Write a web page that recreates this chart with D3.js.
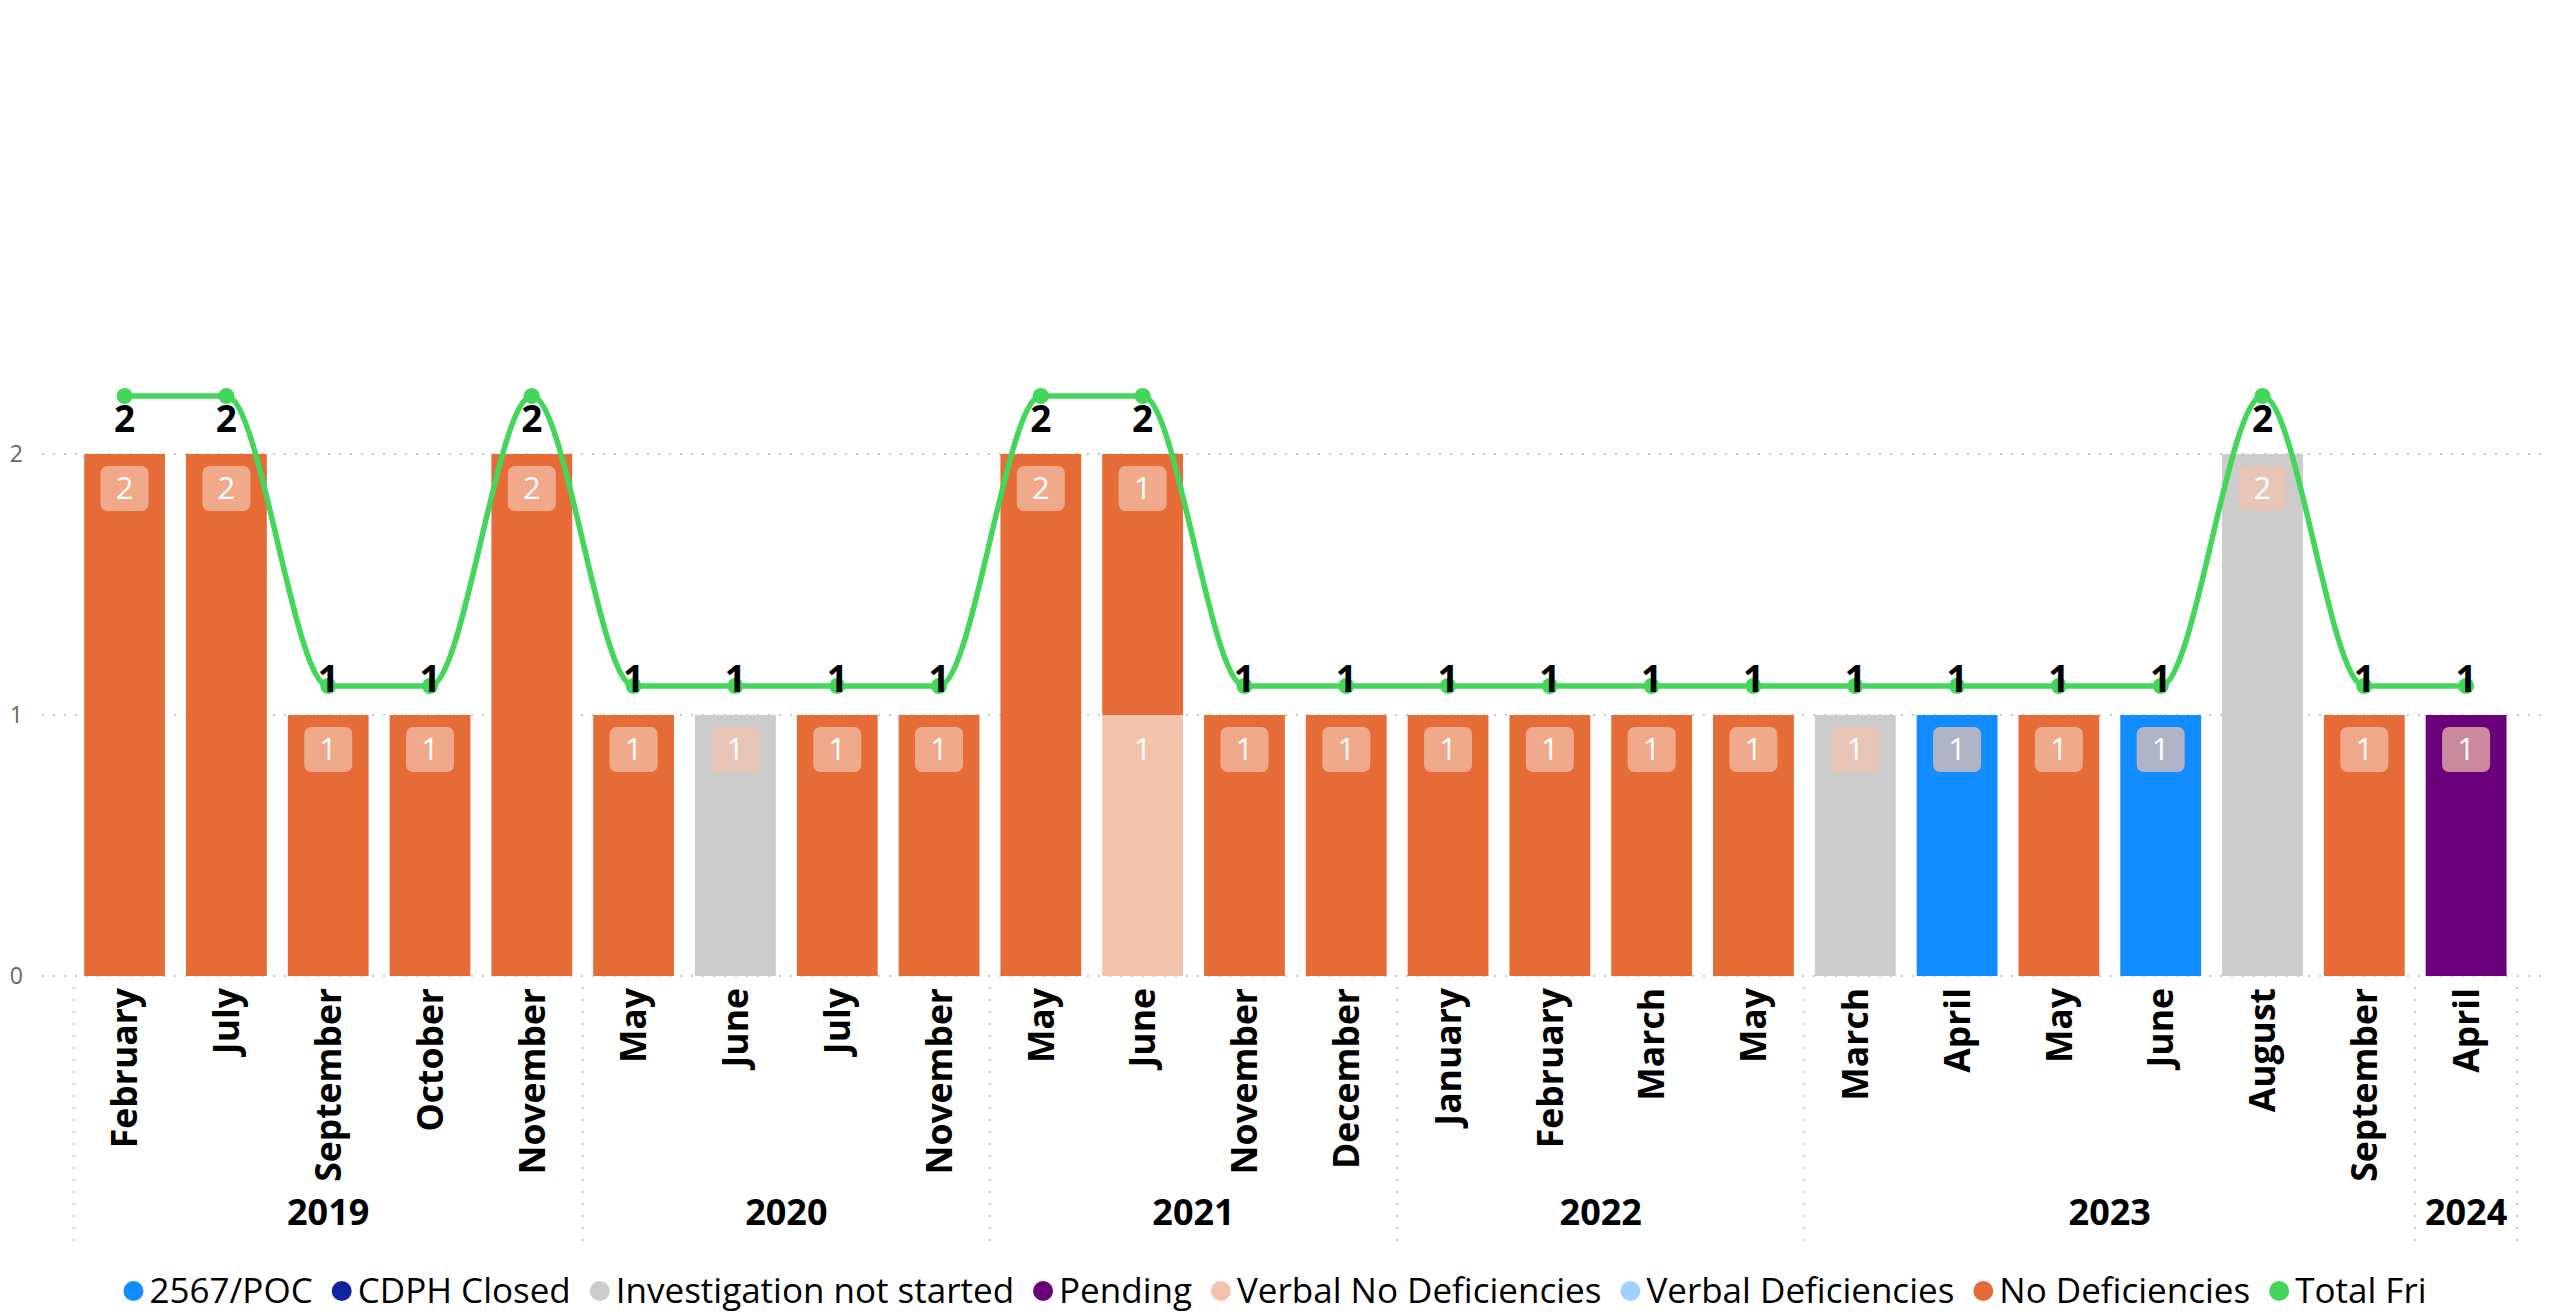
<!DOCTYPE html>
<html>
<head>
<meta charset="utf-8">
<script src="https://cdn.jsdelivr.net/npm/d3@7"></script>
<style>
  html, body { margin: 0; padding: 0; background: #fff; }
  svg { display: block; }
  text { font-family: "Segoe UI", "Open Sans", "Noto Sans", sans-serif; }
</style>
</head>
<body>
<svg id="chart" width="2554" height="1314"></svg>
<script>
// ---------- DATA ----------
const months = ["February","July","September","October","November",
                "May","June","July","November",
                "May","June","November","December",
                "January","February","March","May",
                "March","April","May","June","August","September",
                "April"];
const years = ["2019","2019","2019","2019","2019",
               "2020","2020","2020","2020",
               "2021","2021","2021","2021",
               "2022","2022","2022","2022",
               "2023","2023","2023","2023","2023","2023",
               "2024"];

const statusNames = ["2567/POC","CDPH Closed","Investigation not started","Pending",
                     "Verbal No Deficiencies","Verbal Deficiencies","No Deficiencies"];
const statusColors = ["#118DFF","#12239E","#CCCCCC","#6B007B","#F4C3AE","#A0D1FF","#E66C37"];

const poc              = [0,0,0,0,0, 0,0,0,0, 0,0,0,0, 0,0,0,0, 0,1,0,1,0,0, 0];
const cdphClosed       = [0,0,0,0,0, 0,0,0,0, 0,0,0,0, 0,0,0,0, 0,0,0,0,0,0, 0];
const notStarted       = [0,0,0,0,0, 0,1,0,0, 0,0,0,0, 0,0,0,0, 1,0,0,0,2,0, 0];
const pending          = [0,0,0,0,0, 0,0,0,0, 0,0,0,0, 0,0,0,0, 0,0,0,0,0,0, 1];
const verbalNoDef      = [0,0,0,0,0, 0,0,0,0, 0,1,0,0, 0,0,0,0, 0,0,0,0,0,0, 0];
const verbalDef        = [0,0,0,0,0, 0,0,0,0, 0,0,0,0, 0,0,0,0, 0,0,0,0,0,0, 0];
const noDeficiencies   = [2,2,1,1,2, 1,0,1,1, 2,1,1,1, 1,1,1,1, 0,0,1,0,0,1, 0];
const seriesValues = [poc, cdphClosed, notStarted, pending, verbalNoDef, verbalDef, noDeficiencies];

const lineName = "Total Fri";
const lineColor = "#44D65A";
const totalFri = [2,2,1,1,2, 1,1,1,1, 2,2,1,1, 1,1,1,1, 1,1,1,1,2,1, 1];

const yTicks = [0, 1, 2];

// ---------- LAYOUT ----------
const svg = d3.select("#chart");
const W = 2554;

const x = d3.scaleBand()
  .domain(d3.range(months.length))
  .range([73.7, 2517])
  .paddingInner(0.206)
  .paddingOuter(0.103);

const yBar  = d3.scaleLinear().domain([0, 3]).range([976, 193]);
const yLine = d3.scaleLinear().domain([0, 2.7]).range([976, 193]);

// gridlines
const grid = svg.append("g");
grid.selectAll("line").data(yTicks).join("line")
  .attr("x1", 42).attr("x2", 2546)
  .attr("y1", d => yBar(d)).attr("y2", d => yBar(d))
  .attr("stroke", "#C8C8C8").attr("stroke-width", 2)
  .attr("stroke-dasharray", "2,9");

// y axis labels
const yAxis = d3.axisLeft(yBar).tickValues(yTicks).tickFormat(d3.format("d"))
  .tickSize(0).tickPadding(0);
const yg = svg.append("g").attr("transform", "translate(23,0)").call(yAxis);
yg.select(".domain").remove();
yg.selectAll("text")
  .attr("font-size", 23).attr("fill", "#666666")
  .style("font-family", '"Segoe UI", "Open Sans", sans-serif');

// stacked bars
const rows = months.map((m, i) => {
  const r = { idx: i };
  statusNames.forEach((s, k) => r[s] = seriesValues[k][i]);
  return r;
});
const stacked = d3.stack().keys(statusNames)(rows);

const barsG = svg.append("g");
stacked.forEach((layer, k) => {
  barsG.append("g").attr("fill", statusColors[k])
    .selectAll("rect").data(layer.filter(d => d[1] - d[0] > 0)).join("rect")
    .attr("x", d => x(d.data.idx))
    .attr("width", x.bandwidth())
    .attr("y", d => yBar(d[1]))
    .attr("height", d => yBar(d[0]) - yBar(d[1]));
});

// inside-end labels with box
const labG = svg.append("g");
stacked.forEach((layer, k) => {
  layer.filter(d => d[1] - d[0] > 0).forEach(d => {
    const cx = x(d.data.idx) + x.bandwidth() / 2;
    const top = yBar(d[1]) + 12;
    labG.append("rect")
      .attr("x", cx - 24).attr("y", top).attr("width", 48).attr("height", 45)
      .attr("rx", 7).attr("fill", statusColors[4]).attr("fill-opacity", 0.7);
    labG.append("text")
      .attr("x", cx).attr("y", top + 22.5).attr("dy", "0.35em")
      .attr("text-anchor", "middle").attr("font-size", 31).attr("fill", "#fff")
      .text(d[1] - d[0]);
  });
});

// line
const lineGen = d3.line()
  .x((d, i) => x(i) + x.bandwidth() / 2)
  .y(d => yLine(d))
  .curve(d3.curveMonotoneX);
svg.append("path").datum(totalFri)
  .attr("d", lineGen).attr("fill", "none")
  .attr("stroke", lineColor).attr("stroke-width", 5.5);
svg.append("g").selectAll("circle").data(totalFri).join("circle")
  .attr("cx", (d, i) => x(i) + x.bandwidth() / 2)
  .attr("cy", d => yLine(d)).attr("r", 8).attr("fill", lineColor);

// line labels
svg.append("g").selectAll("text").data(totalFri).join("text")
  .attr("x", (d, i) => x(i) + x.bandwidth() / 2)
  .attr("y", d => yLine(d) + (d >= 2 ? 36 : 6))
  .attr("text-anchor", "middle").attr("font-size", 37).attr("font-weight", 700)
  .attr("fill", "#000").text(d => d);

// x axis month labels
const xg = svg.append("g");
xg.selectAll("text").data(months).join("text")
  .attr("transform", (d, i) => `translate(${x(i) + x.bandwidth() / 2},988) rotate(-90)`)
  .attr("text-anchor", "end").attr("dy", "0.36em")
  .attr("font-size", 35.5).attr("font-weight", 700).attr("fill", "#000")
  .text(d => d);

// year groups
const groups = [];
years.forEach((yv, i) => {
  if (!groups.length || groups[groups.length - 1].year !== yv) groups.push({ year: yv, start: i, end: i });
  else groups[groups.length - 1].end = i;
});
const half = x.step() * x.paddingInner() / 2;
const sepX = [];
groups.forEach((g, gi) => {
  g.x0 = gi === 0 ? x.range()[0] : x(g.start) - half;
  g.x1 = gi === groups.length - 1 ? x.range()[1] : x(g.end) + x.bandwidth() + half;
  sepX.push(g.x0);
});
sepX.push(groups[groups.length - 1].x1);
svg.append("g").selectAll("line").data(sepX).join("line")
  .attr("x1", d => d).attr("x2", d => d)
  .attr("y1", 987).attr("y2", 1242)
  .attr("stroke", "#C8C8C8").attr("stroke-width", 2).attr("stroke-dasharray", "2,10");
svg.append("g").selectAll("text").data(groups).join("text")
  .attr("x", d => (d.x0 + d.x1) / 2).attr("y", 1225)
  .attr("text-anchor", "middle").attr("font-size", 36).attr("font-weight", 700)
  .attr("fill", "#000").text(d => d.year);

// legend
const legendItems = statusNames.map((s, k) => ({ name: s, color: statusColors[k] }))
  .concat([{ name: lineName, color: lineColor }]);
const lg = svg.append("g");
let cursor = 0;
const items = lg.selectAll("g").data(legendItems).join("g");
items.append("circle").attr("r", 10).attr("cx", 10).attr("cy", 0).attr("fill", d => d.color);
items.append("text").attr("x", 26).attr("y", 0).attr("dy", "0.35em")
  .attr("font-size", 35).attr("fill", "#000").text(d => d.name);
items.each(function () {
  const g = d3.select(this);
  const w = 26 + g.select("text").node().getComputedTextLength();
  g.attr("transform", `translate(${cursor},0)`);
  cursor += w + 19;
});
const totalW = cursor - 19;
lg.attr("transform", `translate(${(W - totalW) / 2 - 2},1291)`);
</script>
</body>
</html>
